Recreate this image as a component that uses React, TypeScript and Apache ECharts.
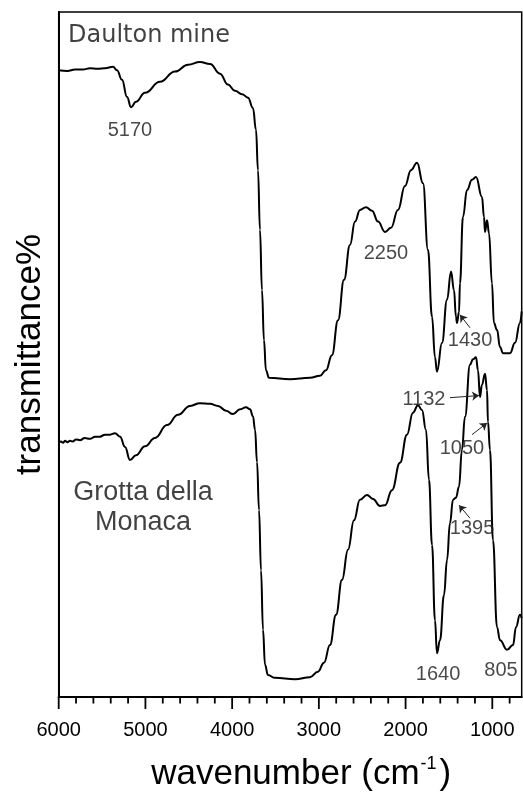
import React, { useEffect, useRef } from "react";
import * as echarts from "echarts";

// [wavenumber (cm-1), transmittance (arbitrary %)]
const daultonMine: number[][] = [
  [6000, 91.5], [5900, 91.4], [5812, 91.6], [5720, 91.6], [5639, 91.8], [5550, 91.7], [5466, 91.8], [5374, 92.0],
  [5328, 91.5], [5270, 90.1], [5212, 87.6], [5166, 86.1], [5109, 86.9], [5005, 88.2], [4832, 89.8],
  [4659, 91.3], [4509, 92.3], [4371, 92.7], [4255, 92.4], [4140, 91.0], [4048, 89.4], [3967, 88.5],
  [3886, 88.0], [3817, 87.5], [3760, 86.0], [3725, 82.8], [3702, 76.9], [3679, 68.2], [3656, 59.4],
  [3633, 52.1], [3610, 47.7], [3575, 46.6], [3333, 46.4], [3102, 46.6], [2987, 46.9], [2918, 47.7],
  [2849, 49.9], [2779, 55.0], [2710, 60.9], [2641, 66.0], [2583, 69.4], [2526, 71.1], [2457, 71.5],
  [2387, 71.0], [2318, 69.4], [2237, 67.9], [2168, 68.5], [2088, 71.1], [2007, 74.6], [1938, 76.9],
  [1868, 78.0], [1799, 75.0], [1742, 65.3], [1695, 55.5], [1661, 49.6], [1638, 47.5], [1580, 51.7],
  [1522, 58.0], [1476, 62.1], [1442, 59.4], [1419, 55.5], [1407, 54.6], [1384, 56.2], [1373, 60.4],
  [1338, 70.1], [1292, 74.0], [1234, 75.5], [1188, 75.9], [1119, 73.0], [1096, 70.1], [1084, 67.9],
  [1061, 69.6], [1038, 67.7], [1004, 60.4], [981, 54.6], [946, 53.6], [911, 51.1], [877, 50.2],
  [796, 50.2], [738, 51.7], [681, 54.6], [661, 56.3],
];

const grottaDellaMonaca: number[][] = [
  [6000, 37.1], [5975, 37.3], [5950, 37.1], [5927, 37.4], [5900, 37.2], [5870, 37.4], [5840, 37.3],
  [5800, 37.6], [5754, 37.5], [5700, 37.8], [5639, 37.7], [5580, 38.0], [5524, 38.0], [5466, 38.3],
  [5408, 38.3], [5351, 38.5], [5293, 38.0], [5235, 36.5], [5178, 34.6], [5109, 35.3], [5005, 36.6],
  [4890, 37.8], [4751, 39.7], [4624, 41.2], [4486, 42.5], [4371, 42.9], [4255, 42.8], [4163, 42.5],
  [4071, 41.8], [3990, 41.3], [3909, 42.0], [3840, 42.3], [3794, 42.0], [3760, 41.0], [3736, 39.0],
  [3713, 34.3], [3690, 27.3], [3667, 18.5], [3644, 9.8], [3621, 4.7], [3587, 3.2], [3506, 2.8],
  [3275, 2.6], [3102, 2.9], [3010, 3.7], [2941, 5.0], [2872, 7.6], [2802, 12.0], [2733, 17.1],
  [2664, 21.5], [2595, 25.8], [2526, 28.8], [2445, 29.5], [2376, 28.9], [2295, 27.9], [2237, 28.0],
  [2157, 30.2], [2064, 34.2], [1984, 38.3], [1915, 41.5], [1857, 42.6], [1811, 41.9], [1765, 39.0],
  [1730, 31.7], [1695, 22.2], [1661, 11.2], [1638, 6.4], [1603, 8.3], [1557, 14.9], [1522, 20.0],
  [1488, 25.4], [1453, 28.8], [1419, 29.1], [1384, 30.7], [1350, 36.1], [1315, 40.9], [1257, 48.5],
  [1223, 49.3], [1188, 49.6], [1165, 47.7], [1142, 43.8], [1119, 45.6], [1084, 47.2], [1061, 44.8],
  [1050, 40.2], [1027, 36.1], [992, 22.9], [946, 10.2], [911, 8.3], [831, 6.9], [761, 7.6],
  [727, 10.2], [681, 12.0], [661, 11.5],
];

const xMin = 661;
const xMax = 6000;
const majorTicks = [6000, 5000, 4000, 3000, 2000, 1000];
const minorTicks = [
  5800, 5600, 5400, 5200, 4800, 4600, 4400, 4200, 3800, 3600, 3400, 3200,
  2800, 2600, 2400, 2200, 1800, 1600, 1400, 1200, 800,
];

// band labels: [text, wavenumber, transmittance]
const bandLabels: [string, number, number][] = [
  ["5170", 5178, 82.9],
  ["2250", 2226, 65.0],
  ["1430", 1257, 52.3],
  ["1132", 1788, 43.7],
  ["1050", 1350, 36.5],
  ["1395", 1234, 24.8],
  ["1640", 1626, 3.5],
  ["805", 900, 4.1],
];

// arrows: [from wn, from T, to wn, to T]
const bandArrows: number[][] = [
  [1257, 53.9, 1373, 55.8],
  [1488, 43.7, 1153, 44.0],
  [1234, 38.3, 1061, 40.0],
  [1257, 26.1, 1384, 28.0],
];

const sampleNames: [string, number, number][] = [
  ["Daulton mine", 5893, 96.8],
  ["Grotta della\nMonaca", 5028, 27.9],
];

const SANS = "'Liberation Sans', Arial, sans-serif";
const MAJOR_LEN = 12;
const MINOR_LEN = 6.5;

export default function App() {
  const ref = useRef<HTMLDivElement>(null);
  useEffect(() => {
    if (!ref.current) return;
    const chart = echarts.init(ref.current, null, { renderer: "svg" });
    const lineCommon = {
      type: "line",
      showSymbol: false,
      symbol: "none",
      smooth: 0.45,
      smoothMonotone: "x",
      lineStyle: { color: "#000", width: 2 },
      itemStyle: { color: "#000" },
      silent: true,
      z: 3,
    };
    chart.setOption({
      animation: false,
      grid: {
        left: 58.7,
        right: 1.3,
        top: 12,
        bottom: 96,
        show: true,
        borderColor: "#000",
        borderWidth: 1.5,
        outerBoundsMode: "none",
      },
      xAxis: {
        type: "value",
        inverse: true,
        min: xMin,
        max: xMax,
        axisLine: { show: true, lineStyle: { color: "#000", width: 2 } },
        axisTick: { show: false },
        axisLabel: {
          show: true,
          margin: 22,
          fontSize: 20,
          color: "#000",
          fontFamily: SANS,
          formatter: (v: number) => (v % 1000 === 0 ? String(v) : ""),
        },
        splitLine: { show: false },
        name: "{a|wavenumber (cm}{s|-1}{a|)}",
        nameLocation: "middle",
        nameGap: 57,
        nameTextStyle: {
          padding: [0, 0, 0, 22],
          rich: {
            a: { fontSize: 35, fontFamily: SANS, color: "#000" },
            s: { fontSize: 18, fontFamily: SANS, color: "#000", verticalAlign: "top", padding: [0, 3, 0, 1] },
          },
        },
      },
      yAxis: {
        type: "value",
        min: 0,
        max: 100,
        axisLine: { show: true, lineStyle: { color: "#000", width: 2 } },
        axisTick: { show: false },
        axisLabel: { show: false },
        splitLine: { show: false },
        name: "transmittance%",
        nameLocation: "middle",
        nameGap: 14,
        nameTextStyle: { fontSize: 35, fontFamily: SANS, color: "#000" },
      },
      series: [
        { ...lineCommon, name: "Daulton mine", data: daultonMine },
        { ...lineCommon, name: "Grotta della Monaca", data: grottaDellaMonaca },
        {
          type: "scatter",
          name: "bands",
          symbol: "circle",
          symbolSize: 1,
          itemStyle: { color: "rgba(0,0,0,0)" },
          silent: true,
          z: 5,
          label: {
            show: true,
            position: "inside",
            formatter: "{b}",
            fontSize: 20,
            fontFamily: SANS,
            color: "#1a1a1a",
          },
          data: bandLabels.map(([t, x, y]) => ({ name: t, value: [x, y] })),
          markLine: {
            silent: true,
            symbol: ["none", "arrow"],
            symbolSize: 7,
            label: { show: false },
            emphasis: { disabled: true },
            lineStyle: { color: "#222", width: 1, type: "solid" },
            data: bandArrows.map(([x1, y1, x2, y2]) => [{ coord: [x1, y1] }, { coord: [x2, y2] }]),
          },
        },
        {
          type: "scatter",
          name: "samples",
          symbol: "circle",
          symbolSize: 1,
          itemStyle: { color: "rgba(0,0,0,0)" },
          silent: true,
          z: 5,
          data: sampleNames.map(([t, x, y], i) => ({
            name: t,
            value: [x, y],
            label:
              i === 0
                ? {
                    show: true,
                    position: "inside",
                    align: "left",
                    formatter: "{b}",
                    fontSize: 24,
                    fontFamily: "'DejaVu Sans', Verdana, sans-serif",
                    color: "#111",
                  }
                : {
                    show: true,
                    position: "inside",
                    align: "center",
                    formatter: "{b}",
                    fontSize: 27,
                    lineHeight: 30,
                    fontFamily: SANS,
                    color: "#111",
                  },
          })),
        },
      ],
    });

    // x-axis ticks placed through the axis scale; major and minor lengths differ
    const ticks: any[] = [];
    const push = (vals: number[], len: number) => {
      for (const v of vals) {
        const p = chart.convertToPixel({ xAxisIndex: 0, yAxisIndex: 0 }, [v, 0]) as any;
        if (!p || !isFinite(p[0])) continue;
        ticks.push({
          type: "rect",
          z: 100,
          shape: { x: p[0] - 0.9, y: p[1], width: 1.8, height: len },
          style: { fill: "#000" },
        });
      }
    };
    push(majorTicks, MAJOR_LEN);
    push(minorTicks, MINOR_LEN);
    chart.setOption({ graphic: { elements: ticks } });

    return () => chart.dispose();
  }, []);
  return <div ref={ref} style={{ position: "fixed", left: 0, top: 0, width: 523, height: 793 }} />;
}
